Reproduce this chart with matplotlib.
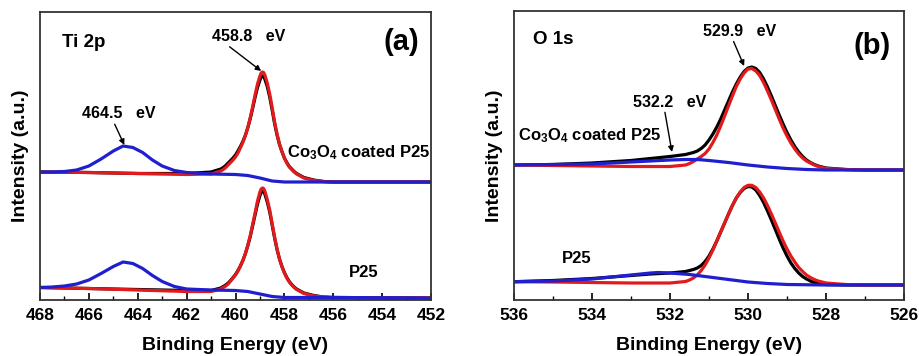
import matplotlib
matplotlib.use("Agg")
import matplotlib.pyplot as plt
from matplotlib.ticker import MultipleLocator

plt.rcParams['font.family'] = ['Liberation Sans', 'DejaVu Sans']
plt.rcParams['font.weight'] = 'bold'
plt.rcParams['mathtext.fontset'] = 'custom'
plt.rcParams['mathtext.rm'] = 'Liberation Sans:bold'
plt.rcParams['mathtext.it'] = 'Liberation Sans:bold'
plt.rcParams['mathtext.bf'] = 'Liberation Sans:bold'

# ---------------- Ti 2p (panel a) ----------------
ti_blue_E = [468.0, 467.5, 467.0, 466.5, 466.0, 465.5, 465.0, 464.6, 464.2, 463.8,
             463.4, 463.0, 462.5, 462.0, 461.0, 460.0, 459.5, 459.0, 458.5, 458.0, 456.0, 452.0]
# Co3O4 coated P25 (upper)
ti_top_blue_I = [128, 128, 128.5, 130, 134, 141, 149, 154, 152.5, 147.5,
                 140, 134, 129.5, 127.5, 126, 125.5, 124.5, 122, 119, 118, 118, 118]
# P25 (lower)
ti_bot_blue_I = [12.5, 13, 14, 16, 20, 26.5, 33.5, 38, 36.5, 31.5,
                 24.5, 18.5, 13.5, 11, 10, 9.5, 8.5, 6, 3.5, 2.5, 2.5, 2]

ti_fit_E = [468.0, 466.0, 464.0, 462.0, 461.0,
            460.6, 460.5, 460.4, 460.3, 460.2, 460.1, 460.0, 459.9, 459.8, 459.7,
            459.6, 459.5, 459.4, 459.3, 459.2, 459.1, 459.0, 458.95, 458.9, 458.85,
            458.8, 458.7, 458.6, 458.5, 458.4, 458.3, 458.2, 458.1, 458.0, 457.9,
            457.8, 457.7, 457.6, 457.5, 457.2, 456.8, 456.4, 456.0, 452.0]
ti_top_red_I = [128, 127.5, 126.5, 125.5, 126,
                129, 130.5, 132.5, 135, 137.5, 140, 143, 147, 152, 157.5,
                164, 172, 182, 193, 205, 216, 224, 227, 228, 227.5,
                225, 217, 206, 192.5, 178, 166, 156, 148.5, 142, 137,
                133, 130.5, 128, 126, 122, 119.5, 118.5, 118, 118]
ti_top_black_I = [128, 127.5, 126.5, 126.5, 128,
                  131, 132.5, 134.5, 137, 139.5, 142, 145, 149, 153.5, 158.5,
                  164.5, 172, 181, 191.5, 202.5, 212.5, 220, 223, 224, 223.5,
                  221, 213.5, 203, 190, 176.5, 165, 155.5, 148.5, 142, 137.5,
                  133.5, 131, 128.5, 126.5, 122.5, 120, 118.5, 118, 118]
ti_bot_red_I = [12.5, 11.5, 10, 8.5, 8.5,
                11, 12.5, 14, 16, 19, 22, 25, 29, 34, 39.5,
                46, 54.5, 64, 75.5, 87, 99, 108, 111, 112, 111.5,
                109, 100.5, 90, 76.5, 63, 51, 41, 33.5, 27, 22,
                18, 15, 12.5, 10.5, 6.5, 4, 3, 2.5, 2]
ti_bot_black_I = [12.5, 11.5, 10.5, 9.5, 9.5,
                  12, 13.5, 15, 17, 19.5, 22.5, 25.5, 29.5, 34, 39.5,
                  46, 54, 63, 74, 85, 96, 104.5, 107.5, 109, 108.5,
                  106, 98, 88, 75, 62, 50.5, 41, 33.5, 27.5, 22.5,
                  18.5, 15.5, 13, 11, 7, 4.5, 3, 2.5, 2]

# ---------------- O 1s (panel b) ----------------
o_fit_E = [536.0, 535.0, 534.0, 533.0, 532.5, 532.0,
           531.6, 531.5, 531.4, 531.3, 531.2, 531.1, 531.0, 530.9, 530.8, 530.7,
           530.6, 530.5, 530.4, 530.3, 530.2, 530.1, 530.0, 529.9, 529.8, 529.7,
           529.6, 529.5, 529.4, 529.3, 529.2, 529.1, 529.0, 528.9, 528.8, 528.7,
           528.6, 528.5, 528.4, 528.3, 528.2, 528.0, 527.5, 527.0, 526.0]
o_top_red_I = [135, 134.5, 134, 133.5, 133.5, 133.5,
               135, 136.5, 138.5, 141, 143.5, 146.5, 151, 157.5, 165, 174,
               184, 194, 204, 213.5, 221, 227, 231, 231.5, 229, 224.5,
               217.5, 209, 200, 190.5, 181, 172, 164, 157, 151, 146,
               142, 139, 137, 135, 133.5, 131.5, 130.5, 130, 130]
o_top_black_I = [135, 135.5, 137, 139.5, 141.5, 143.5,
                 145.5, 146.5, 147.5, 149, 151.5, 155, 160, 166, 173, 181,
                 190, 199, 208, 216, 223, 228.5, 232, 233, 231.5, 227.5,
                 221, 213, 204, 194.5, 185, 176, 167.5, 160, 153.5, 148,
                 143.5, 140, 137.5, 135.5, 134, 132, 130.5, 130, 130]
o_bot_red_I = [18.3, 18, 17.5, 17, 17, 17,
               18.5, 20, 22, 25, 29.5, 35, 42, 50, 59, 68,
               77, 86, 94.5, 102, 108, 112.5, 114.7, 114.7, 112.5, 108,
               102, 94.5, 86, 77, 68, 59, 51, 44, 38, 32.5,
               28.5, 25, 22.5, 20.5, 19, 17, 15.5, 15, 15]
o_bot_black_I = [18.3, 19.5, 21.5, 24.5, 26, 27,
                 28.5, 29.5, 30.5, 32, 34.5, 38.5, 44, 51, 59, 68,
                 77, 86, 94.5, 102, 107.5, 111.5, 113.5, 113, 110, 104.5,
                 97.5, 89, 80, 70.5, 61, 52, 44, 37, 31.5, 27,
                 23.5, 21, 19, 17.5, 16.5, 15.5, 15, 15, 15]

o_top_blue_E = [536.0, 535.0, 534.0, 533.0, 532.5, 532.0, 531.6, 531.3, 531.0, 530.5,
                530.0, 529.5, 529.0, 528.5, 528.0, 526.0]
o_top_blue_I = [135, 135.5, 136, 138, 139, 140, 140.5, 140.5, 139.5, 137.5,
                135, 133, 131.5, 130.5, 130, 130]
o_bot_blue_E = [536.0, 535.0, 534.0, 533.5, 533.0, 532.5, 532.3, 532.0, 531.5, 531.0,
                530.5, 530.0, 529.5, 529.0, 528.0, 526.0]
o_bot_blue_I = [18.3, 19, 21, 23, 25, 27, 27.5, 27, 25.5, 23,
                20.5, 18, 16.5, 15.5, 15, 15]

RED = '#e31a1c'
BLUE = '#1f1fd0'
LW = 2.3

fig = plt.figure(figsize=(9.19, 3.56), dpi=100)
axa = fig.add_axes([40/919, 56/356, 391/919, 288/356])
axb = fig.add_axes([514/919, 56/356, 390/919, 289/356])


def style(ax, xlim, ylim):
    ax.set_xlim(*xlim)
    ax.set_ylim(*ylim)
    ax.xaxis.set_major_locator(MultipleLocator(2))
    ax.xaxis.set_minor_locator(MultipleLocator(1))
    ax.tick_params(axis='x', which='major', direction='in', length=5, width=1.2,
                   labelsize=12.5, pad=6, top=False)
    ax.tick_params(axis='x', which='minor', direction='in', length=3, width=1.0, top=False)
    ax.set_yticks([])
    for s in ax.spines.values():
        s.set_linewidth(1.3)
        s.set_color('#333333')
    for lab in ax.get_xticklabels():
        lab.set_fontweight('bold')
    ax.set_xlabel('Binding Energy (eV)', fontsize=14, fontweight='bold', labelpad=10)
    ax.set_ylabel('Intensity (a.u.)', fontsize=14, fontweight='bold', labelpad=8)


def arrow(ax, label, xy, xytext, relx):
    ax.annotate(label, xy=xy, xytext=xytext, textcoords='axes fraction',
                fontsize=11.5, fontweight='bold', ha='left', va='center',
                arrowprops=dict(arrowstyle='-|>', color='black', lw=1.0, mutation_scale=8,
                                shrinkA=0, shrinkB=0, relpos=(relx, 0.0)))


# Panel a
axa.plot(ti_fit_E, ti_top_black_I, color='black', lw=LW)
axa.plot(ti_fit_E, ti_top_red_I, color=RED, lw=LW)
axa.plot(ti_blue_E, ti_top_blue_I, color=BLUE, lw=LW)
axa.plot(ti_fit_E, ti_bot_black_I, color='black', lw=LW)
axa.plot(ti_fit_E, ti_bot_red_I, color=RED, lw=LW)
axa.plot(ti_blue_E, ti_bot_blue_I, color=BLUE, lw=LW)
style(axa, (468, 452), (0, 288))

axa.text(0.055, 0.895, 'Ti 2p', transform=axa.transAxes, fontsize=13.5, fontweight='bold',
         va='center', ha='left')
axa.text(0.97, 0.895, '(a)', transform=axa.transAxes, fontsize=21, fontweight='bold',
         va='center', ha='right')
arrow(axa, '458.8   eV', (458.95, 229), (0.44, 0.915), 0.19)
arrow(axa, '464.5   eV', (464.55, 155), (0.107, 0.646), 0.43)
axa.text(0.632, 0.51, 'Co$_3$O$_4$ coated P25', transform=axa.transAxes, fontsize=12,
         fontweight='bold', ha='left', va='center')
axa.text(0.79, 0.097, 'P25', transform=axa.transAxes, fontsize=12, fontweight='bold',
         ha='left', va='center')

# Panel b
axb.plot(o_fit_E, o_top_black_I, color='black', lw=LW)
axb.plot(o_fit_E, o_top_red_I, color=RED, lw=LW)
axb.plot(o_top_blue_E, o_top_blue_I, color=BLUE, lw=LW)
axb.plot(o_fit_E, o_bot_black_I, color='black', lw=LW)
axb.plot(o_fit_E, o_bot_red_I, color=RED, lw=LW)
axb.plot(o_bot_blue_E, o_bot_blue_I, color=BLUE, lw=LW)
style(axb, (536, 526), (0, 289))

axb.text(0.048, 0.9, 'O 1s', transform=axb.transAxes, fontsize=13.5, fontweight='bold',
         va='center', ha='left')
axb.text(0.965, 0.88, '(b)', transform=axb.transAxes, fontsize=21, fontweight='bold',
         va='center', ha='right')
arrow(axb, '529.9   eV', (530.1, 234), (0.485, 0.93), 0.4)
arrow(axb, '532.2   eV', (531.95, 148), (0.305, 0.685), 0.43)
axb.text(0.01, 0.57, 'Co$_3$O$_4$ coated P25', transform=axb.transAxes, fontsize=12,
         fontweight='bold', ha='left', va='center')
axb.text(0.123, 0.145, 'P25', transform=axb.transAxes, fontsize=12, fontweight='bold',
         ha='left', va='center')

fig.savefig('out.png', dpi=100)
